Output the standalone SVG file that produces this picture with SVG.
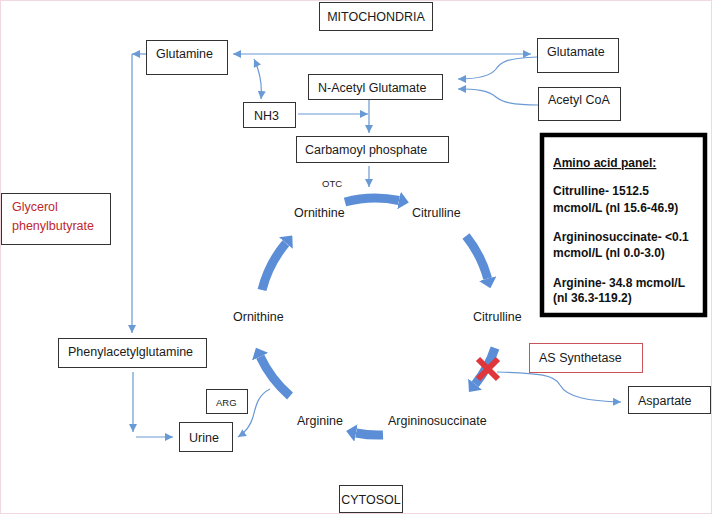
<svg xmlns="http://www.w3.org/2000/svg" width="712" height="514" viewBox="0 0 712 514">
<style>
.t{font-family:"Liberation Sans",Arial,sans-serif;font-size:12.5px;fill:#1a1a1a}
.s{font-family:"Liberation Sans",Arial,sans-serif;font-size:9.5px;fill:#1a1a1a}
.b{font-family:"Liberation Sans",Arial,sans-serif;font-size:12px;font-weight:bold;fill:#111}
.red{fill:#C0272D}
.box{fill:#fff;stroke:#333;stroke-width:1}
.thin{fill:none;stroke:#6A9AD4;stroke-width:1.2}
.thick{fill:none;stroke:#5B8ED6;stroke-width:9;marker-end:url(#big)}
</style>
<defs>
<marker id="ah" viewBox="0 0 8 8" refX="8" refY="4" markerWidth="8" markerHeight="8" markerUnits="userSpaceOnUse" orient="auto-start-reverse"><path d="M0,0 L8,4 L0,8 z" fill="#6A9AD4"/></marker>
<marker id="big" viewBox="0 0 10 18" refX="0" refY="9" markerWidth="10" markerHeight="18" markerUnits="userSpaceOnUse" orient="auto"><path d="M0,0 L10,9 L0,18 z" fill="#5B8ED6"/></marker>
</defs>
<rect x="0" y="0" width="712" height="514" fill="#fff"/>
<rect x="0.5" y="0.5" width="711" height="513" fill="none" stroke="#F0D8DE" stroke-width="1"/>

<g id="connectors">
<path class="thin" d="M233,54 L531,54" marker-start="url(#ah)" marker-end="url(#ah)"/>
<path class="thin" d="M146,54 L132,54" marker-end="url(#ah)"/>
<path class="thin" d="M132,54 L132,333" marker-end="url(#ah)"/>
<path class="thin" d="M254,59 Q263,78 261,99" marker-start="url(#ah)" marker-end="url(#ah)"/>
<path class="thin" d="M298,114 L368,114" marker-end="url(#ah)"/>
<path class="thin" d="M369,100 L369,133" marker-end="url(#ah)"/>
<path class="thin" d="M369,166 L369,187" marker-end="url(#ah)"/>
<path class="thin" d="M537,57 C505,58 500,63 496,69 C490,77 475,79 458,79" marker-end="url(#ah)"/>
<path class="thin" d="M538,105 C512,105 502,102 496,97 C488,90 475,89 458,89" marker-end="url(#ah)"/>
<path class="thin" d="M133,372 L133,432" marker-end="url(#ah)"/>
<path class="thin" d="M136,437 L173,437" marker-end="url(#ah)"/>
<path class="thin" d="M270,389 C258,395 256,405 253,417 C250,428 244,433 238,437" marker-end="url(#ah)"/>
<path class="thin" d="M497,372 C540,373 555,375 560,385 C567,398 590,401 621,402" marker-end="url(#ah)"/>

<path class="thick" d="M345,202 A118,118 0 0 1 399,200.5"/>
<path class="thick" d="M466,236 A118,118 0 0 1 487.7,278.6"/>
<path class="thick" d="M495,348 A118,118 0 0 1 475.2,384.2"/>
<path class="thick" d="M383,435 A118,118 0 0 1 356,433"/>
<path class="thick" d="M290,396 A118,118 0 0 1 260.2,356.7"/>
<path class="thick" d="M262,290 A118,118 0 0 1 285.9,243.1"/>
<path d="M478,359 L498,379 M498,359 L478,379" stroke="#E0353B" stroke-width="6" fill="none"/>
</g>

<g id="mitochondria"><rect class="box" x="319.5" y="2.5" width="113" height="28"/><text class="t" x="376" y="21" text-anchor="middle">MITOCHONDRIA</text></g>
<g id="glutamine"><rect class="box" x="146.5" y="40.5" width="81" height="34"/><text class="t" x="156" y="58">Glutamine</text></g>
<g id="glutamate"><rect class="box" x="537.5" y="38.5" width="81" height="34"/><text class="t" x="547" y="56">Glutamate</text></g>
<g id="nag"><rect class="box" x="308.5" y="74.5" width="134" height="25"/><text class="t" x="318" y="92">N-Acetyl Glutamate</text></g>
<g id="acetylcoa"><rect class="box" x="538.5" y="87.5" width="82" height="33"/><text class="t" x="548" y="104">Acetyl CoA</text></g>
<g id="nh3"><rect class="box" x="243.5" y="102.5" width="52" height="25"/><text class="t" x="254" y="120">NH3</text></g>
<g id="carbamoyl"><rect class="box" x="296.5" y="136.5" width="152" height="26"/><text class="t" x="305" y="154">Carbamoyl phosphate</text></g>
<g id="panel"><rect x="542" y="135" width="163" height="180" fill="#fff" stroke="#000" stroke-width="4.5"/>
<text class="b" x="553" y="167" text-decoration="underline">Amino acid panel:</text>
<text class="b" x="553" y="195">Citrulline- 1512.5</text>
<text class="b" x="553" y="212">mcmol/L (nl 15.6-46.9)</text>
<text class="b" x="553" y="241">Argininosuccinate- &lt;0.1</text>
<text class="b" x="553" y="257">mcmol/L (nl 0.0-3.0)</text>
<text class="b" x="553" y="287">Arginine- 34.8 mcmol/L</text>
<text class="b" x="553" y="302">(nl 36.3-119.2)</text></g>
<g id="glycerol"><rect class="box" x="1.5" y="193.5" width="109" height="51"/><text class="t red" x="12" y="211">Glycerol</text><text class="t red" x="12" y="230">phenylbutyrate</text></g>
<g id="phenylacetylglutamine"><rect class="box" x="58.5" y="338.5" width="148" height="29"/><text class="t" x="68" y="356">Phenylacetylglutamine</text></g>
<g id="arg"><rect class="box" x="206.5" y="389.5" width="41" height="24"/><text class="s" x="216" y="405.5">ARG</text></g>
<g id="urine"><rect class="box" x="179.5" y="422.5" width="53" height="29"/><text class="t" x="189" y="441.5">Urine</text></g>
<g id="assynthetase"><rect x="529.5" y="343.5" width="113" height="29" fill="#fff" stroke="#C9545A" stroke-width="1"/><text class="t" x="539" y="361.5">AS Synthetase</text></g>
<g id="aspartate"><rect class="box" x="628.5" y="386.5" width="82" height="27"/><text class="t" x="638" y="404.5">Aspartate</text></g>
<g id="cytosol"><rect class="box" x="339.5" y="485.5" width="63" height="27"/><text class="t" x="371" y="504" text-anchor="middle">CYTOSOL</text></g>

<g id="otc"><text class="s" x="322" y="186.5">OTC</text></g>
<g id="ornithine-top"><text class="t" x="294" y="217">Ornithine</text></g>
<g id="citrulline-top"><text class="t" x="412" y="217">Citrulline</text></g>
<g id="ornithine-left"><text class="t" x="233" y="321">Ornithine</text></g>
<g id="citrulline-right"><text class="t" x="473" y="321">Citrulline</text></g>
<g id="arginine"><text class="t" x="297" y="425">Arginine</text></g>
<g id="argininosuccinate"><text class="t" x="388" y="425">Argininosuccinate</text></g>
</svg>
